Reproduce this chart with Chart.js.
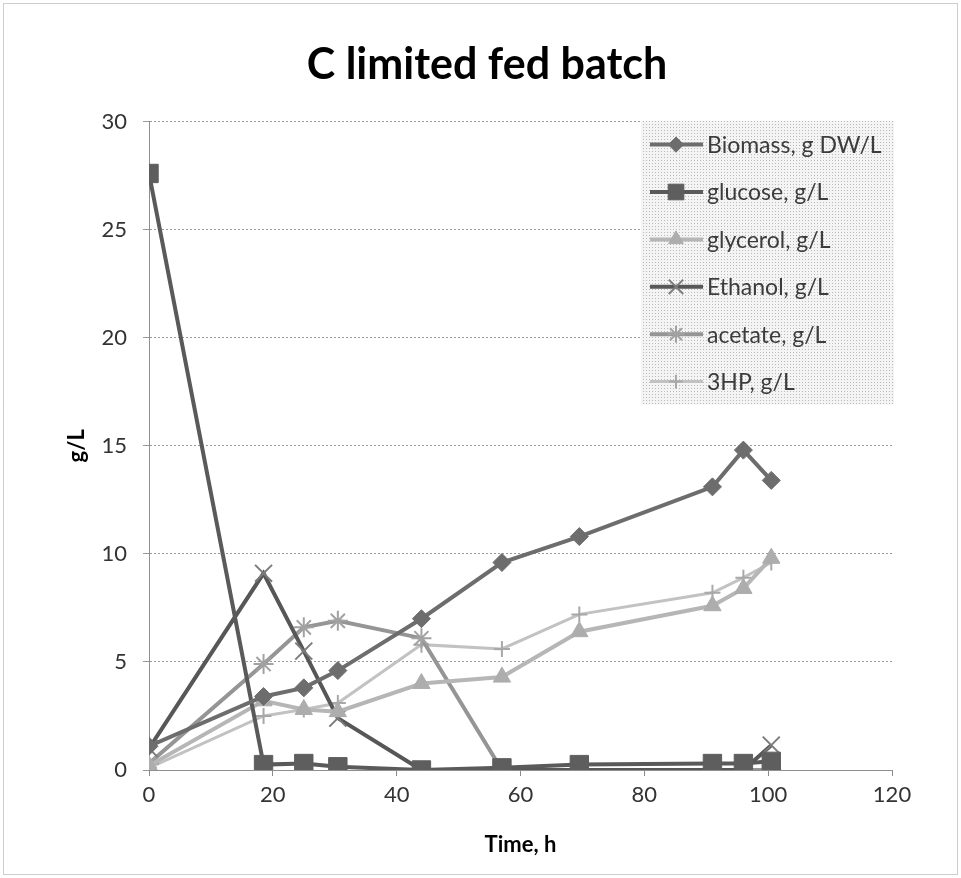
<!DOCTYPE html>
<html>
<head>
<meta charset="utf-8">
<script src="https://cdn.jsdelivr.net/npm/chart.js@4/dist/chart.umd.min.js"></script>
<style>
  html, body { margin: 0; padding: 0; background: #fff; }
  #wrap { width: 961px; height: 878px; position: relative; }
</style>
</head>
<body>
<div id="wrap"><canvas id="c" width="961" height="878"></canvas></div>
<script>
// Sampling times (h)
const hours = [0, 18.5, 25, 30.5, 44, 57, 69.5, 91, 96, 100.5];

// Concentrations, g/L (biomass as g DW/L)
const biomass  = [1.1, 3.4, 3.8, 4.6, 7.0, 9.6, 10.8, 13.1, 14.8, 13.4];
const glucose  = [27.6, 0.25, 0.3, 0.15, 0.0, 0.1, 0.25, 0.3, 0.3, 0.4];
const glycerol = [0.2, 3.2, 2.8, 2.7, 4.0, 4.3, 6.4, 7.6, 8.4, 9.8];
const ethanol  = [1.0, 9.1, 5.5, 2.4, 0.0, 0.0, 0.0, 0.0, 0.0, 1.15];
const acetate  = [0.3, 4.9, 6.6, 6.9, 6.1, 0.0, 0.0, 0.0, 0.0, 0.0];
const hp3      = [0.1, 2.5, 2.8, 3.1, 5.8, 5.6, 7.2, 8.2, 8.9, 9.6];

const seriesNames = ['Biomass, g DW/L', 'glucose, g/L', 'glycerol, g/L', 'Ethanol, g/L', 'acetate, g/L', '3HP, g/L'];
const xTicks = [0, 20, 40, 60, 80, 100, 120];
const yTicks = [0, 5, 10, 15, 20, 25, 30];

const FONT = 'Lato, "Open Sans", sans-serif';

function pts(values) {
  return hours.map((h, i) => ({ x: h, y: values[i] }));
}

function series(label, values, style) {
  return Object.assign({
    label,
    data: pts(values),
    yAxisID: 'y',
    tension: 0,
    fill: false,
    pointHoverRadius: style.pointRadius
  }, style);
}

const datasets = [
  series(seriesNames[0], biomass, {
    borderColor: '#6d6d6d', borderWidth: 4,
    pointStyle: 'rectRot', pointRadius: 9,
    pointBackgroundColor: '#6d6d6d', pointBorderColor: '#6d6d6d', pointBorderWidth: 1
  }),
  series(seriesNames[1], glucose, {
    borderColor: '#5a5a5a', borderWidth: 4,
    pointStyle: 'rect', pointRadius: 13,
    pointBackgroundColor: '#5e5e5e', pointBorderColor: '#5e5e5e', pointBorderWidth: 1
  }),
  series(seriesNames[2], glycerol, {
    borderColor: '#b6b6b6', borderWidth: 4,
    pointStyle: 'triangle', pointRadius: 10,
    pointBackgroundColor: '#adadad', pointBorderColor: '#adadad', pointBorderWidth: 1
  }),
  series(seriesNames[3], ethanol, {
    borderColor: '#575757', borderWidth: 4,
    pointStyle: 'crossRot', pointRadius: 12,
    pointBackgroundColor: '#7c7c7c', pointBorderColor: '#7c7c7c', pointBorderWidth: 2
  }),
  series(seriesNames[4], acetate, {
    borderColor: '#959595', borderWidth: 4,
    pointStyle: 'star', pointRadius: 10,
    pointBackgroundColor: '#a2a2a2', pointBorderColor: '#a2a2a2', pointBorderWidth: 2
  }),
  series(seriesNames[5], hp3, {
    borderColor: '#c2c2c2', borderWidth: 3,
    pointStyle: 'cross', pointRadius: 8,
    pointBackgroundColor: '#a8a8a8', pointBorderColor: '#a8a8a8', pointBorderWidth: 2
  })
];

// Dotted frame around the whole figure
const framePlugin = {
  id: 'frame',
  beforeDraw(chart) {
    const ctx = chart.ctx;
    ctx.save();
    ctx.fillStyle = '#fff';
    ctx.fillRect(0, 0, chart.width, chart.height);
    ctx.strokeStyle = '#9a9a9a';
    ctx.lineWidth = 1;
    ctx.setLineDash([1, 1]);
    ctx.strokeRect(3.5, 3.5, chart.width - 7, chart.height - 7);
    ctx.restore();
  }
};

// Legend box drawn inside the top-right corner of the plot area
const insideLegend = {
  id: 'insideLegend',
  afterDraw(chart) {
    const ctx = chart.ctx;
    const area = chart.chartArea;
    const x0 = area.right - 251, y0 = area.top - 1, w = 253, h = 284;

    const tile = document.createElement('canvas');
    tile.width = 3; tile.height = 3;
    const tctx = tile.getContext('2d');
    tctx.fillStyle = '#f4f4f4';
    tctx.fillRect(0, 0, 3, 3);
    tctx.fillStyle = '#b9b9b9';
    tctx.fillRect(1, 1, 1, 1);

    ctx.save();
    ctx.fillStyle = ctx.createPattern(tile, 'repeat');
    ctx.fillRect(x0, y0, w, h);

    const lineX1 = x0 + 9, lineX2 = x0 + 62, markX = x0 + 35, textX = x0 + 66;
    chart.data.datasets.forEach((ds, i) => {
      const y = area.top + 23 + i * 47.4;
      ctx.setLineDash([]);
      ctx.strokeStyle = ds.borderColor;
      ctx.lineWidth = ds.borderWidth;
      ctx.beginPath();
      ctx.moveTo(lineX1, y);
      ctx.lineTo(lineX2, y);
      ctx.stroke();

      ctx.fillStyle = ds.pointBackgroundColor;
      ctx.strokeStyle = ds.pointBorderColor;
      ctx.lineWidth = ds.pointBorderWidth;
      Chart.helpers.drawPoint(ctx, {
        pointStyle: ds.pointStyle,
        radius: ds.pointRadius * 0.85,
        rotation: 0,
        borderWidth: ds.pointBorderWidth
      }, markX, y);

      ctx.fillStyle = '#3c3c3c';
      ctx.font = '23px ' + FONT;
      ctx.textAlign = 'left';
      ctx.textBaseline = 'middle';
      ctx.fillText(ds.label, textX, y + 1);
    });
    ctx.restore();
  }
};

new Chart(document.getElementById('c'), {
  type: 'line',
  data: { datasets },
  options: {
    responsive: false,
    animation: false,
    layout: { padding: { left: 13, right: 0, top: 0, bottom: 0 } },
    plugins: {
      legend: { display: false },
      tooltip: { enabled: false },
      title: {
        display: true,
        text: 'C limited fed batch',
        color: '#000',
        font: { family: FONT, size: 43, weight: 'bold' },
        padding: { top: 39, bottom: 31 }
      }
    },
    scales: {
      x: {
        type: 'linear',
        min: 0, max: 120,
        afterFit(scale) { scale.height = 108; },
        afterBuildTicks(scale) { scale.ticks = xTicks.map(v => ({ value: v })); },
        ticks: { color: '#333', font: { family: FONT, size: 22 }, padding: 6, maxRotation: 0 },
        grid: { drawOnChartArea: false, drawTicks: true, tickLength: 6, color: '#8a8a8a' },
        border: { display: true, color: '#8f8f8f', width: 1, dash: [2, 2] },
        title: {
          display: true, text: 'Time, h', color: '#000',
          font: { family: FONT, size: 22, weight: 'bold' },
          padding: { top: 0, bottom: 20 }
        }
      },
      y: {
        position: 'left',
        min: 0, max: 30,
        afterFit(scale) { scale.width = 136; },
        afterBuildTicks(scale) { scale.ticks = yTicks.map(v => ({ value: v })); },
        ticks: { color: '#333', font: { family: FONT, size: 22 }, padding: 16 },
        grid: { drawOnChartArea: true, drawTicks: true, tickLength: 6, color: '#9a9a9a', lineWidth: 1 },
        border: { display: true, color: '#8f8f8f', width: 1, dash: [2, 2] },
        title: {
          display: true, text: 'g/L', color: '#000',
          font: { family: FONT, size: 22, weight: 'bold' },
          padding: { top: 51, bottom: 0 }
        }
      },
      // empty right-hand margin of the figure, kept as a blank axis
      yRight: {
        position: 'right',
        min: 0, max: 30,
        afterFit(scale) { scale.width = 69; },
        ticks: { display: false },
        grid: { display: false },
        border: { display: false }
      }
    }
  },
  plugins: [framePlugin, insideLegend]
});
</script>
</body>
</html>
